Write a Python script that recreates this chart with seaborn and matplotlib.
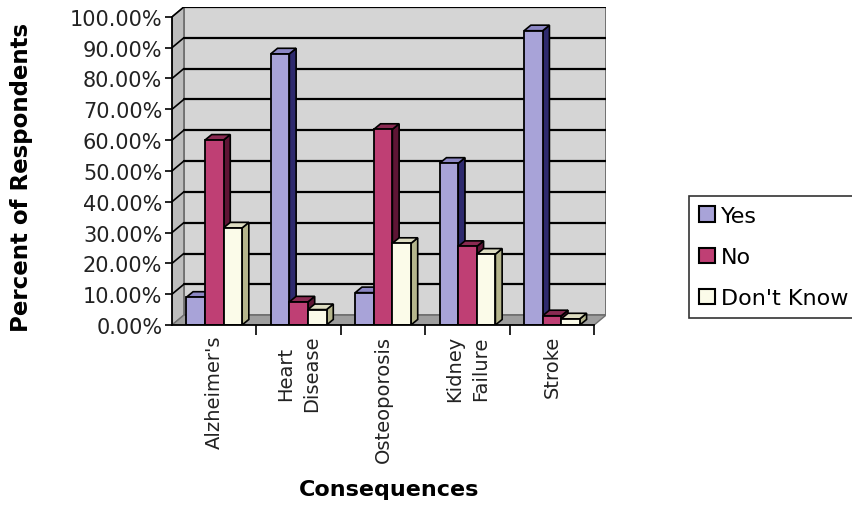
import numpy as np
import pandas as pd
import matplotlib
matplotlib.use("Agg")
import matplotlib.pyplot as plt
import seaborn as sns
from matplotlib.patches import Polygon, Patch

# ---- data ----
categories = ["Alzheimer's", "Heart\nDisease", "Osteoporosis", "Kidney\nFailure", "Stroke"]
responses = ["Yes", "No", "Don't Know"]
yes_pct = [9.0, 88.0, 10.5, 52.5, 95.5]
no_pct = [60.0, 7.5, 63.5, 25.5, 3.0]
dont_know_pct = [31.5, 5.0, 26.5, 23.0, 2.0]
y_ticks = [0, 10, 20, 30, 40, 50, 60, 70, 80, 90, 100]

front_colors = ["#a8a3d8", "#bf3f74", "#fbfbe9"]
side_colors = ["#2e2a6e", "#5e1535", "#b5b58c"]
top_colors = ["#8c87c4", "#8a2a52", "#deddc2"]

df = pd.DataFrame({
    "Consequence": categories * 3,
    "Response": [responses[0]] * 5 + [responses[1]] * 5 + [responses[2]] * 5,
    "Percent": yes_pct + no_pct + dont_know_pct,
})

sns.set_theme(style="white")
plt.rcParams["font.family"] = ["DejaVu Sans"]

fig = plt.figure(figsize=(8.52, 5.06), dpi=100)
fig.patch.set_facecolor("white")
ax = fig.add_axes([172 / 852, 180 / 506, 434 / 852, 318 / 506])
ax.set_facecolor("none")

DX, DY = 0.14, 3.2      # wall depth (x in category units, y in percent)
BDX, BDY = 0.08, 1.8    # bar depth

xmin, xmax = -0.5, len(categories) - 0.5

# walls
ax.add_patch(Polygon([(xmin + DX, DY), (xmax + DX, DY), (xmax + DX, 100 + DY), (xmin + DX, 100 + DY)],
                     closed=True, facecolor="#d5d5d5", edgecolor="#606060", lw=1.2, zorder=0))
ax.add_patch(Polygon([(xmin, 0), (xmin + DX, DY), (xmin + DX, 100 + DY), (xmin, 100)],
                     closed=True, facecolor="#bdbdbd", edgecolor="#707070", lw=1.0, zorder=0.5))
ax.add_patch(Polygon([(xmin, 0), (xmax, 0), (xmax + DX, DY), (xmin + DX, DY)],
                     closed=True, facecolor="#9e9e9e", edgecolor="#707070", lw=1.0, zorder=0.5))
for v in y_ticks[1:]:
    ax.plot([xmin + DX, xmax + DX], [v + DY, v + DY], color="black", lw=1.6, zorder=1)
    ax.plot([xmin, xmin + DX], [v, v + DY], color="black", lw=1.2, zorder=1)

sns.barplot(data=df, x="Consequence", y="Percent", hue="Response",
            order=categories, hue_order=responses, palette=front_colors,
            width=0.66, edgecolor="black", linewidth=1.3, legend=False,
            saturation=1, ax=ax, zorder=3)

# 3D faces derived from the bars themselves
for j, cont in enumerate(ax.containers):
    for rect in cont:
        x0, w, h = rect.get_x(), rect.get_width(), rect.get_height()
        ax.add_patch(Polygon([(x0 + w, 0), (x0 + w + BDX, BDY), (x0 + w + BDX, h + BDY), (x0 + w, h)],
                             closed=True, facecolor=side_colors[j], edgecolor="black", lw=1.2,
                             zorder=2 + 0.1 * j))
        ax.add_patch(Polygon([(x0, h), (x0 + BDX, h + BDY), (x0 + w + BDX, h + BDY), (x0 + w, h)],
                             closed=True, facecolor=top_colors[j], edgecolor="black", lw=1.2,
                             zorder=2 + 0.1 * j + 0.05))

ax.set_xlim(xmin, xmax + DX)
ax.set_ylim(0, 100 + DY)

for s in ["top", "right"]:
    ax.spines[s].set_visible(False)
ax.spines["left"].set_bounds(0, 100)
ax.spines["bottom"].set_bounds(xmin, xmax)
for s in ["left", "bottom"]:
    ax.spines[s].set_color("black")
    ax.spines[s].set_linewidth(1.3)
    ax.spines[s].set_zorder(5)

ax.set_yticks(y_ticks)
ax.set_yticklabels([f"{v:.2f}%" for v in y_ticks], fontsize=15, color="#222222")
ax.tick_params(axis="y", direction="out", length=5, width=1.2, color="black", pad=2, left=True)

ax.set_xticks(range(len(categories)))
ax.set_xticklabels(categories, rotation=90, fontsize=14, color="#222222",
                   va="top", ha="center", multialignment="center", linespacing=1.45)
ax.set_xticks([i + 0.5 for i in range(len(categories))], minor=True)
ax.tick_params(axis="x", which="major", length=0, pad=7)
ax.tick_params(axis="x", which="minor", direction="out", length=7, width=1.2, color="black", bottom=True)
ax.set_xlabel("")
ax.set_ylabel("")

fig.text(389 / 852, 1 - 490 / 506, "Consequences", ha="center", va="center",
         fontsize=16, fontweight="bold", color="black")
fig.text(22 / 852, 1 - 177 / 506, "Percent of Respondents", ha="center", va="center",
         rotation=90, fontsize=16.5, fontweight="bold", color="black")

handles = [Patch(facecolor=c, edgecolor="black", linewidth=1.5) for c in front_colors]
leg = fig.legend(handles, responses, loc="upper left", bbox_to_anchor=(689 / 852, 1 - 197 / 506),
                 frameon=True, fancybox=False, edgecolor="black", fontsize=16,
                 handlelength=0.7, handleheight=0.7, handletextpad=0.3,
                 borderpad=0.45, labelspacing=0.95, borderaxespad=0)
leg.get_frame().set_linewidth(1.2)
for t in leg.get_texts():
    t.set_color("black")

fig.savefig("out.png", dpi=100)
